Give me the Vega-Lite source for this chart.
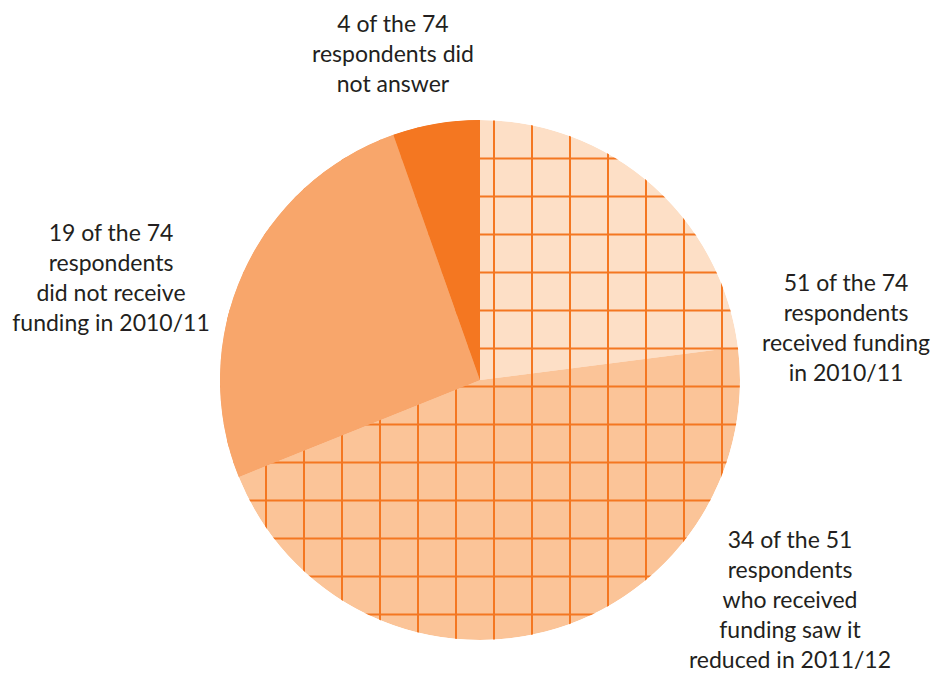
{
  "$schema": "https://vega.github.io/schema/vega-lite/v6.json",
  "autosize": "none",
  "width": 520,
  "height": 520,
  "padding": {"left": 220, "top": 120, "right": 194, "bottom": 33},
  "background": "white",
  "config": {"view": {"stroke": null}},
  "datasets": {
    "slices": [
      {"group": "Received funding in 2010/11, not reduced in 2011/12", "n": 17, "o": 1},
      {"group": "Received funding in 2010/11, reduced in 2011/12", "n": 34, "o": 2},
      {"group": "Did not receive funding in 2010/11", "n": 19, "o": 3},
      {"group": "Did not answer", "n": 4, "o": 4}
    ],
    "gridX": [{"gx": -252}, {"gx": -214}, {"gx": -176}, {"gx": -138}, {"gx": -100}, {"gx": -62}, {"gx": -24}, {"gx": 14}, {"gx": 52}, {"gx": 90}, {"gx": 128}, {"gx": 166}, {"gx": 204}, {"gx": 242}],
    "gridY": [{"gy": -221.5}, {"gy": -183.5}, {"gy": -145.5}, {"gy": -107.5}, {"gy": -69.5}, {"gy": -31.5}, {"gy": 6.5}, {"gy": 44.5}, {"gy": 82.5}, {"gy": 120.5}, {"gy": 158.5}, {"gy": 196.5}, {"gy": 234.5}]
  },
  "layer": [
    {
      "data": {"name": "slices"},
      "mark": {"type": "arc", "radius": 260},
      "encoding": {
        "theta": {"field": "n", "type": "quantitative", "stack": true},
        "order": {"field": "o", "type": "quantitative"},
        "color": {
          "field": "group", "type": "nominal", "legend": null,
          "scale": {
            "domain": ["Received funding in 2010/11, not reduced in 2011/12", "Received funding in 2010/11, reduced in 2011/12", "Did not receive funding in 2010/11", "Did not answer"],
            "range": ["#fddfc6", "#fbc498", "#f8a66b", "#f47721"]
          }
        }
      }
    },
    {
      "data": {"name": "gridX"},
      "mark": {"type": "rule", "color": "#f47721", "strokeWidth": 2},
      "encoding": {
        "x": {"field": "gx", "type": "quantitative", "axis": null, "scale": {"domain": [-260, 260], "nice": false, "zero": false}}
      }
    },
    {
      "data": {"name": "gridY"},
      "mark": {"type": "rule", "color": "#f47721", "strokeWidth": 2},
      "encoding": {
        "y": {"field": "gy", "type": "quantitative", "axis": null, "scale": {"domain": [-260, 260], "nice": false, "zero": false, "reverse": true}}
      }
    },
    {
      "data": {"values": [{"mask": 1}]},
      "mark": {"type": "arc", "radius": 430, "radius2": 260, "theta": 0, "theta2": 6.2832, "fill": "white"},
      "encoding": {}
    },
    {
      "data": {"name": "slices"},
      "mark": {"type": "arc", "radius": 260},
      "encoding": {
        "theta": {"field": "n", "type": "quantitative", "stack": true},
        "order": {"field": "o", "type": "quantitative"},
        "color": {"field": "group", "type": "nominal", "legend": null},
        "opacity": {"condition": {"test": "datum.o <= 2", "value": 0}, "value": 1}
      }
    },
    {
      "data": {"values": [{"label": "4 of the 74\nrespondents did\nnot answer"}]},
      "mark": {"type": "text", "font": "Lato", "fontSize": 23, "lineHeight": 30, "lineBreak": "\n", "align": "center", "baseline": "middle", "color": "#231f20"},
      "encoding": {
        "text": {"field": "label", "type": "nominal"},
        "x": {"datum": -87, "type": "quantitative", "scale": {"domain": [-260, 260], "nice": false, "zero": false}},
        "y": {"datum": -355, "type": "quantitative", "scale": {"domain": [-260, 260], "nice": false, "zero": false, "reverse": true}}
      }
    },
    {
      "data": {"values": [{"label": "19 of the 74\nrespondents\ndid not receive\nfunding in 2010/11"}]},
      "mark": {"type": "text", "font": "Lato", "fontSize": 23, "lineHeight": 30, "lineBreak": "\n", "align": "center", "baseline": "middle", "color": "#231f20"},
      "encoding": {
        "text": {"field": "label", "type": "nominal"},
        "x": {"datum": -369, "type": "quantitative", "scale": {"domain": [-260, 260], "nice": false, "zero": false}},
        "y": {"datum": -146, "type": "quantitative", "scale": {"domain": [-260, 260], "nice": false, "zero": false, "reverse": true}}
      }
    },
    {
      "data": {"values": [{"label": "51 of the 74\nrespondents\nreceived funding\nin 2010/11"}]},
      "mark": {"type": "text", "font": "Lato", "fontSize": 23, "lineHeight": 30, "lineBreak": "\n", "align": "center", "baseline": "middle", "color": "#231f20"},
      "encoding": {
        "text": {"field": "label", "type": "nominal"},
        "x": {"datum": 366, "type": "quantitative", "scale": {"domain": [-260, 260], "nice": false, "zero": false}},
        "y": {"datum": -96, "type": "quantitative", "scale": {"domain": [-260, 260], "nice": false, "zero": false, "reverse": true}}
      }
    },
    {
      "data": {"values": [{"label": "34 of the 51\nrespondents\nwho received\nfunding saw it\nreduced in 2011/12"}]},
      "mark": {"type": "text", "font": "Lato", "fontSize": 23, "lineHeight": 30, "lineBreak": "\n", "align": "center", "baseline": "middle", "color": "#231f20"},
      "encoding": {
        "text": {"field": "label", "type": "nominal"},
        "x": {"datum": 310, "type": "quantitative", "scale": {"domain": [-260, 260], "nice": false, "zero": false}},
        "y": {"datum": 161, "type": "quantitative", "scale": {"domain": [-260, 260], "nice": false, "zero": false, "reverse": true}}
      }
    }
  ]
}
